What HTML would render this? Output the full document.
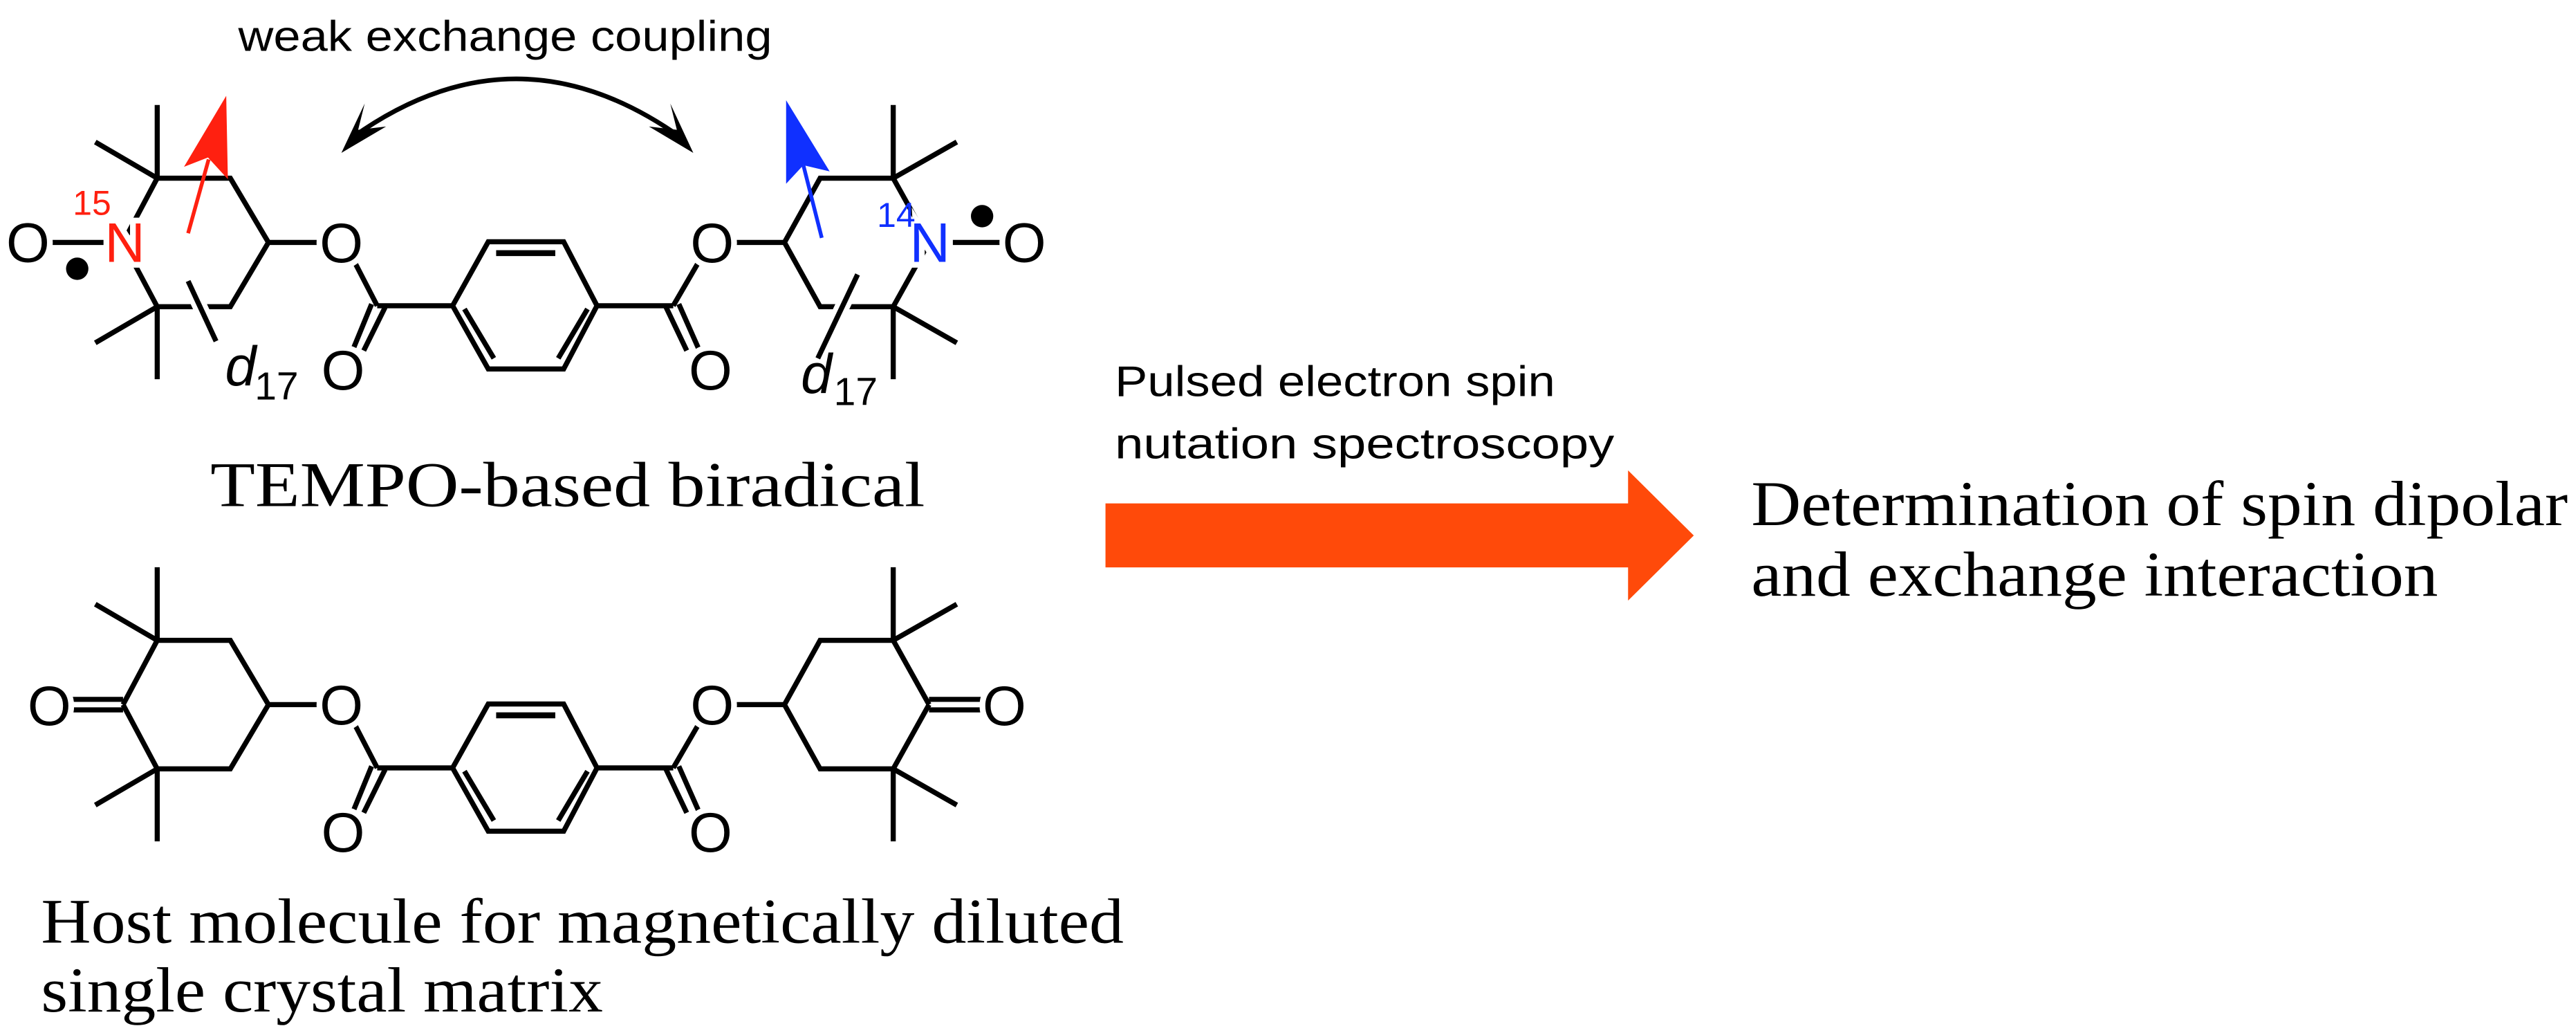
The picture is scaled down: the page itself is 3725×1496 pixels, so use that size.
<!DOCTYPE html>
<html><head><meta charset="utf-8"><style>
html,body{margin:0;padding:0;background:#fff;}
svg{display:block;}
.b{stroke:#000;stroke-width:3.1;fill:none;stroke-linecap:butt;}
.a{font-family:"Liberation Sans",Arial,sans-serif;font-size:34px;text-anchor:middle;stroke:#fff;stroke-width:7;paint-order:stroke;}
.s{font-family:"Liberation Serif","Times New Roman",serif;font-size:39px;}
.ss{font-family:"Liberation Sans",Arial,sans-serif;font-size:26px;}
</style></head><body>
<svg width="3725" height="1496" viewBox="0 0 1568 629.7" preserveAspectRatio="none" xmlns="http://www.w3.org/2000/svg">
<defs>
<g id="core">
  <polyline class="b" points="95.7,108.4 140.2,108.4 163.4,147.5 140.2,186.6 95.7,186.6"/>
  <line class="b" x1="163.4" y1="147.5" x2="200" y2="147.5"/>
  <line class="b" x1="216.5" y1="160.7" x2="229.6" y2="186"/>
  <line class="b" x1="226.2" y1="185" x2="215" y2="212.3"/>
  <line class="b" x1="234.4" y1="187" x2="221.4" y2="213.3"/>
  <line class="b" x1="229.6" y1="186" x2="275.5" y2="186"/>
  <polygon class="b" points="275.5,186 297.2,147.1 343.1,147.1 363.4,186 343.1,224.5 297.2,224.5"/>
  <line class="b" x1="302" y1="154" x2="338" y2="154" style="stroke-width:3.6"/>
  <line class="b" x1="282.7" y1="188" x2="300.6" y2="218"/>
  <line class="b" x1="357.6" y1="188" x2="339.8" y2="218"/>
  <line class="b" x1="363.4" y1="186" x2="409.8" y2="186"/>
  <line class="b" x1="424.5" y1="160.7" x2="409.8" y2="186"/>
  <line class="b" x1="405" y1="186" x2="418" y2="213.3"/>
  <line class="b" x1="413.2" y1="185" x2="425.3" y2="212.3"/>
  <line class="b" x1="444" y1="147.5" x2="477.5" y2="147.5"/>
  <polyline class="b" points="543.7,108.4 499.2,108.4 477.5,147.5 499.2,186.6 543.7,186.6"/>
  <line class="b" x1="95.7" y1="108.4" x2="95.7" y2="63.9"/>
  <line class="b" x1="95.7" y1="108.4" x2="58" y2="86.4"/>
  <line class="b" x1="95.7" y1="186.6" x2="95.7" y2="230.7"/>
  <line class="b" x1="95.7" y1="186.6" x2="58" y2="208.6"/>
  <line class="b" x1="543.7" y1="108.4" x2="543.7" y2="63.9"/>
  <line class="b" x1="543.7" y1="108.4" x2="582.4" y2="86.4"/>
  <line class="b" x1="543.7" y1="186.6" x2="543.7" y2="230.7"/>
  <line class="b" x1="543.7" y1="186.6" x2="582.4" y2="208.6"/>
  <line class="b" x1="95.7" y1="108.4" x2="74.9" y2="147.5"/>
  <line class="b" x1="95.7" y1="186.6" x2="74.9" y2="147.5"/>
  <line class="b" x1="543.7" y1="108.4" x2="565.5" y2="147.5"/>
  <line class="b" x1="543.7" y1="186.6" x2="565.5" y2="147.5"/>
  <text class="a" x="207.8" y="159.5">O</text>
  <text class="a" x="433.5" y="159.5">O</text>
  <text class="a" x="208.8" y="237">O</text>
  <text class="a" x="432.5" y="237">O</text>
</g>
</defs>

<use href="#core"/>
<line class="b" x1="29" y1="147.5" x2="64" y2="147.5"/>
<line class="b" x1="580" y1="147.5" x2="611" y2="147.5"/>
<text class="a" x="76" y="159.3" fill="#ff2010">N</text>
<text class="a" x="566" y="159.3" fill="#1030ff">N</text>
<text class="a" x="17" y="159.3">O</text>
<text class="a" x="623.5" y="159.3">O</text>
<text x="56" y="130.6" fill="#ff2010" font-family="Liberation Sans, Arial, sans-serif" font-size="21" text-anchor="middle">15</text>
<text x="545.5" y="138" fill="#1030ff" font-family="Liberation Sans, Arial, sans-serif" font-size="21" text-anchor="middle">14</text>
<circle cx="47" cy="163.5" r="6.8" fill="#000"/>
<circle cx="597.8" cy="131.5" r="6.8" fill="#000"/>
<line x1="114.5" y1="171" x2="131.5" y2="207.6" stroke="#fff" stroke-width="9"/>
<line class="b" x1="114.5" y1="171" x2="131.5" y2="207.6"/>
<line x1="522" y1="167" x2="497.8" y2="218" stroke="#fff" stroke-width="9"/>
<line class="b" x1="522" y1="167" x2="497.8" y2="218"/>
<text x="137" y="234.5" font-family="Liberation Sans, Arial, sans-serif" font-size="34" font-style="italic">d</text>
<text x="155" y="243" font-family="Liberation Sans, Arial, sans-serif" font-size="24">17</text>
<text x="487.5" y="239" font-family="Liberation Sans, Arial, sans-serif" font-size="34" font-style="italic">d</text>
<text x="507.5" y="246.5" font-family="Liberation Sans, Arial, sans-serif" font-size="24">17</text>
<line x1="114.5" y1="141.9" x2="127" y2="97" stroke="#ff2010" stroke-width="2.3"/>
<polygon points="137.7,58.3 112,101.5 126.6,95.8 138.7,109" fill="#ff2010"/>
<line x1="500.2" y1="144.7" x2="489" y2="100.5" stroke="#1030ff" stroke-width="2.3"/>
<polygon points="478.5,61 478.5,111.8 489,100.5 505,104.3" fill="#1030ff"/>
<path d="M 214 84 Q 314 12 415 84" fill="none" stroke="#000" stroke-width="2.8"/>
<polygon points="207.8,93 222,63 218,79 235,77" fill="#000"/>
<polygon points="422,93 408,63 412,79 395,77" fill="#000"/>
<text x="145" y="31" class="ss" font-size="24" textLength="325" lengthAdjust="spacingAndGlyphs">weak exchange coupling</text>
<text x="128" y="308" class="s" textLength="435" lengthAdjust="spacingAndGlyphs">TEMPO-based biradical</text>

<g transform="translate(0,281.2)">
<use href="#core"/>
<line class="b" x1="42.5" y1="144.3" x2="74.9" y2="144.3"/>
<line class="b" x1="42.5" y1="150.7" x2="74.9" y2="150.7"/>
<line class="b" x1="565.5" y1="144.3" x2="598" y2="144.3"/>
<line class="b" x1="565.5" y1="150.7" x2="598" y2="150.7"/>
<text class="a" x="30" y="160">O</text>
<text class="a" x="611.4" y="160">O</text>
</g>
<text x="25" y="573.6" class="s" textLength="659" lengthAdjust="spacingAndGlyphs">Host molecule for magnetically diluted</text>
<text x="25" y="615.3" class="s" textLength="342" lengthAdjust="spacingAndGlyphs">single crystal matrix</text>

<text x="678.6" y="241" class="ss" textLength="268" lengthAdjust="spacingAndGlyphs">Pulsed electron spin</text>
<text x="678.6" y="278.9" class="ss" textLength="304" lengthAdjust="spacingAndGlyphs">nutation spectroscopy</text>
<polygon points="672.9,306.3 991,306.3 991,286.2 1031,325.8 991,365.4 991,345.2 672.9,345.2" fill="#ff4a0a"/>
<text x="1066" y="319.5" class="s" textLength="497" lengthAdjust="spacingAndGlyphs">Determination of spin dipolar</text>
<text x="1066" y="362.5" class="s" textLength="418" lengthAdjust="spacingAndGlyphs">and exchange interaction</text>
</svg>
</body></html>
